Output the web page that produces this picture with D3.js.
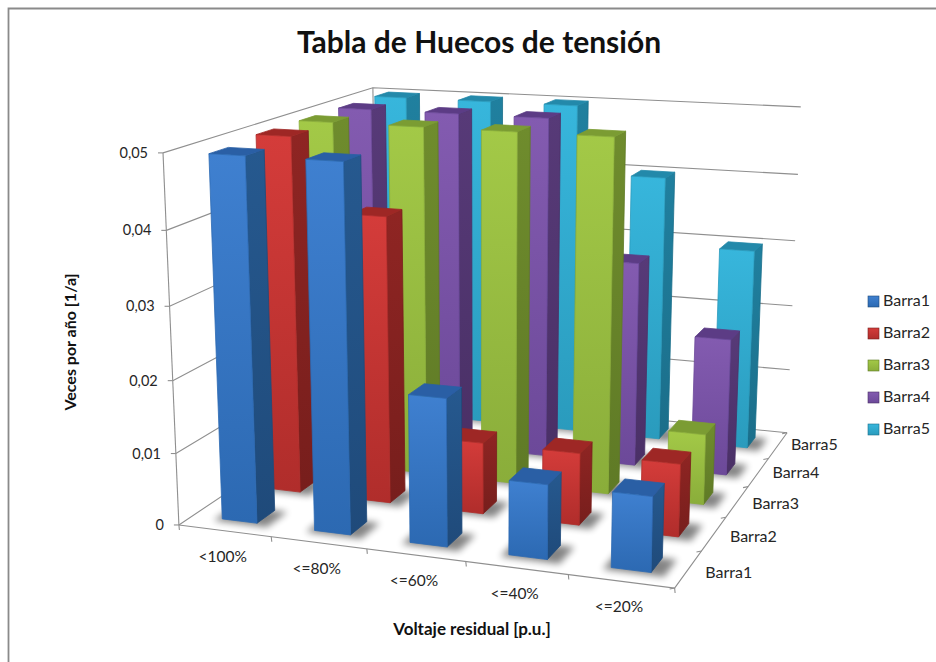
<!DOCTYPE html>
<html lang="es">
<head>
<meta charset="utf-8">
<title>Tabla de Huecos de tensión</title>
<script src="https://cdn.jsdelivr.net/npm/d3@7/dist/d3.min.js"></script>
<style>
  html, body { margin: 0; padding: 0; background: #fff; }
  svg { display: block; }
  text { font-family: Lato, "Open Sans", sans-serif; fill: #262626; }
</style>
</head>
<body>
<svg id="chart" width="936" height="662"></svg>
<script>
// Chart values
const chartTitle = "Tabla de Huecos de tensión";
const yTitle = "Veces por año [1/a]";
const xTitle = "Voltaje residual [p.u.]";
const categories = ["<100%", "<=80%", "<=60%", "<=40%", "<=20%"];
const seriesNames = ["Barra1", "Barra2", "Barra3", "Barra4", "Barra5"];
const barra1 = [0.0495, 0.0495, 0.02, 0.01, 0.01];
const barra2 = [0.05, 0.04, 0.01, 0.01, 0.01];
const barra3 = [0.05, 0.05, 0.05, 0.05, 0.01];
const barra4 = [0.05, 0.05, 0.05, 0.03, 0.02];
const barra5 = [0.05, 0.05, 0.05, 0.04, 0.03];
const seriesValues = [barra1, barra2, barra3, barra4, barra5];
const valueTicks = [0, 0.01, 0.02, 0.03, 0.04, 0.05];

// Face colours per series: front top, front bottom, side top, side bottom, roof
const palette = [
  ["#3f80d0", "#2c69b2", "#26598f", "#1f4a7a", "#2a5fa5"],
  ["#d43c3a", "#b02d2b", "#8f2523", "#771e1c", "#9e2725"],
  ["#a3c947", "#8aad3a", "#6f8c2d", "#5f7a26", "#7b9c33"],
  ["#835bb0", "#6c4999", "#573a78", "#4a3066", "#5c3c85"],
  ["#37b6dc", "#2a9bbd", "#20809f", "#1b6e8a", "#2389aa"]
];

// Scales from data to unit model space
const xBand = d3.scaleBand().domain(categories).range([0.002, 1.002]).paddingInner(0.62).paddingOuter(0.31);
const zBand = d3.scaleBand().domain(seriesNames).range([0, 1]).paddingInner(0.6).paddingOuter(0.3);
const yScale = d3.scaleLinear().domain([0, 0.05]).range([0, 1]);

// Camera calibration: model corners of the plot box and where they fall on screen
const cameraAnchors = [
  [0, 0, 0, 179, 523], [1, 0, 0, 675, 591], [1, 0, 1, 787, 431], [0, 0, 1, 377.5, 396],
  [0, 1, 0, 163, 154], [1, 1, 1, 801, 108], [0, 1, 1, 373, 86],
  [1, 0.2, 1, 789, 368], [1, 0.4, 1, 792.7, 305], [1, 0.6, 1, 795, 241], [1, 0.8, 1, 798, 175],
  [0, 0.2, 0, 176, 452], [0, 0.4, 0, 172.5, 380], [0, 0.6, 0, 169.5, 306], [0, 0.8, 0, 166, 231]
];

// Least-squares fit of a projective camera (normal equations, Gaussian elimination)
function fitCamera(anchors) {
  const n = 11;
  const ata = d3.range(n).map(() => new Array(n + 1).fill(0));
  const addRow = (row, rhs) => {
    for (let i = 0; i < n; i++) {
      for (let j = 0; j < n; j++) ata[i][j] += row[i] * row[j];
      ata[i][n] += row[i] * rhs;
    }
  };
  anchors.forEach(([x, y, z, sx, sy]) => {
    const u = sx / 1000, v = sy / 1000;
    addRow([x, y, z, 1, 0, 0, 0, 0, -u * x, -u * y, -u * z], u);
    addRow([0, 0, 0, 0, x, y, z, 1, -v * x, -v * y, -v * z], v);
  });
  for (let c = 0; c < n; c++) {
    let pivot = c;
    for (let r = c + 1; r < n; r++) if (Math.abs(ata[r][c]) > Math.abs(ata[pivot][c])) pivot = r;
    [ata[c], ata[pivot]] = [ata[pivot], ata[c]];
    for (let r = 0; r < n; r++) {
      if (r === c) continue;
      const f = ata[r][c] / ata[c][c];
      for (let k = c; k <= n; k++) ata[r][k] -= f * ata[c][k];
    }
  }
  return ata.map((row, i) => row[n] / row[i]);
}
const cam = fitCamera(cameraAnchors);
const project = (x, y, z) => {
  const w = cam[8] * x + cam[9] * y + cam[10] * z + 1;
  return [
    1000 * (cam[0] * x + cam[1] * y + cam[2] * z + cam[3]) / w,
    1000 * (cam[4] * x + cam[5] * y + cam[6] * z + cam[7]) / w
  ];
};

const svg = d3.select("#chart");
const defs = svg.append("defs");
const line = d3.line();
const closed = pts => line(pts) + "Z";

defs.append("filter").attr("id", "floorShadow")
  .attr("x", "-40%").attr("y", "-40%").attr("width", "180%").attr("height", "180%")
  .append("feGaussianBlur").attr("stdDeviation", 3.5);

// Vertical gradients, one per face type and series
palette.forEach((c, i) => {
  [["front", c[0], c[1]], ["side", c[2], c[3]]].forEach(([face, top, bottom]) => {
    const g = defs.append("linearGradient").attr("id", `${face}${i}`)
      .attr("x1", 0).attr("y1", 0).attr("x2", 0).attr("y2", 1);
    g.append("stop").attr("offset", 0).attr("stop-color", top);
    g.append("stop").attr("offset", 1).attr("stop-color", bottom);
  });
});

// Outer frame
svg.append("path").attr("d", "M8.5,662V8.5H936")
  .attr("fill", "none").attr("stroke", "#8a8a8a").attr("stroke-width", 1.8);

// Title
svg.append("text").attr("x", 479).attr("y", 53).attr("text-anchor", "middle")
  .attr("font-size", 30).attr("font-weight", 700).style("fill", "#111").text(chartTitle);

// Plot box: walls and floor
const gridColor = "#8f8f8f";
const frame = svg.append("g").attr("fill", "none").attr("stroke", gridColor).attr("stroke-width", 1.1);
valueTicks.forEach(t => {
  const y = yScale(t);
  frame.append("path").attr("d", line([project(0, y, 0), project(0, y, 1), project(1, y, 1)]));
});
frame.append("path").attr("d", line([project(0, 0, 0), project(0, 1, 0)]));
frame.append("path").attr("d", line([project(0, 0, 1), project(0, 1, 1)]));
frame.append("path").attr("d", line([project(0, 0, 0), project(1, 0, 0), project(1, 0, 1)]));

// Value axis ticks and labels
const fmtValue = t => t === 0 ? "0" : d3.format(".2f")(t).replace(".", ",");
valueTicks.forEach(t => {
  const [px, py] = project(0, yScale(t), 0);
  frame.append("path").attr("d", line([[px - 5, py], [px, py]]));
  svg.append("text").attr("x", px - 15).attr("y", py + 5).attr("text-anchor", "end")
    .attr("font-size", 14.5).text(fmtValue(t));
});

// Category axis ticks and labels
categories.forEach((c, i) => {
  const a = i / categories.length;
  const [tx, ty] = project(a, 0, 0);
  frame.append("path").attr("d", line([[tx, ty], [tx + 0.5, ty + 5]]));
  const [lx, ly] = project(a + 0.5 / categories.length, 0, 0);
  svg.append("text").attr("x", lx - 2).attr("y", ly + 31).attr("text-anchor", "middle")
    .attr("font-size", 15.5).text(c);
});
{
  const [tx, ty] = project(1, 0, 0);
  frame.append("path").attr("d", line([[tx, ty], [tx + 0.5, ty + 5]]));
}

// Depth axis ticks and labels
seriesNames.forEach((s, j) => {
  const b = j / seriesNames.length;
  const [tx, ty] = project(1, 0, b);
  frame.append("path").attr("d", line([[tx, ty], [tx - 5, ty + 1]]));
  const [lx, ly] = project(1, 0, b + 0.5 / seriesNames.length);
  svg.append("text").attr("x", lx + 17 - j).attr("y", ly + 9 - j).attr("font-size", 16).text(s);
});
{
  const [tx, ty] = project(1, 0, 1);
  frame.append("path").attr("d", line([[tx, ty], [tx - 5, ty + 1]]));
}

// Axis titles
svg.append("text").attr("x", 472).attr("y", 635).attr("text-anchor", "middle")
  .attr("font-size", 17).attr("font-weight", 700).style("fill", "#111").text(xTitle);
svg.append("text").attr("transform", "translate(76,342) rotate(-90)").attr("text-anchor", "middle")
  .attr("font-size", 16).attr("font-weight", 700).style("fill", "#111").text(yTitle);

// Bars, back row first so nearer bars cover farther ones
const bars = svg.append("g");
const rowsBackToFront = d3.range(seriesNames.length).reverse();
const barDepth = zBand.bandwidth(), barWidth = xBand.bandwidth();
const slab = (x0, x1, z0, z1, y) => [project(x0, y, z0), project(x1, y, z0), project(x1, y, z1), project(x0, y, z1)];

rowsBackToFront.forEach(j => {
  const z0 = zBand(seriesNames[j]), z1 = z0 + barDepth;
  categories.forEach((c, i) => {
    const x0 = xBand(c), x1 = x0 + barWidth, y = yScale(seriesValues[j][i]);
    // Soft contact shadow on the floor
    bars.append("path").attr("d", closed(slab(x0 - 0.012, x1 + 0.028, z0 - 0.014, z1, 0)))
      .attr("fill", "#000").attr("opacity", 0.48).attr("filter", "url(#floorShadow)");
    const g = bars.append("g").attr("stroke-linejoin", "round").attr("stroke-width", 0.8);
    g.append("path").attr("d", closed([project(x1, 0, z0), project(x1, 0, z1), project(x1, y, z1), project(x1, y, z0)]))
      .attr("fill", `url(#side${j})`).attr("stroke", palette[j][3]);
    g.append("path").attr("d", closed(slab(x0, x1, z0, z1, y)))
      .attr("fill", palette[j][4]).attr("stroke", palette[j][4]);
    g.append("path").attr("d", closed([project(x0, 0, z0), project(x1, 0, z0), project(x1, y, z0), project(x0, y, z0)]))
      .attr("fill", `url(#front${j})`).attr("stroke", palette[j][1]);
  });
});

// Legend
const legendY = d3.scaleLinear().domain([0, seriesNames.length - 1]).range([301, 429]);
const legend = svg.append("g");
seriesNames.forEach((s, j) => {
  const y = legendY(j);
  legend.append("rect").attr("x", 868).attr("y", y - 5).attr("width", 11).attr("height", 11)
    .attr("fill", `url(#front${j})`).attr("stroke", palette[j][3]).attr("stroke-width", 0.6);
  legend.append("text").attr("x", 883).attr("y", y + 5).attr("font-size", 16).text(s);
});
</script>
</body>
</html>
